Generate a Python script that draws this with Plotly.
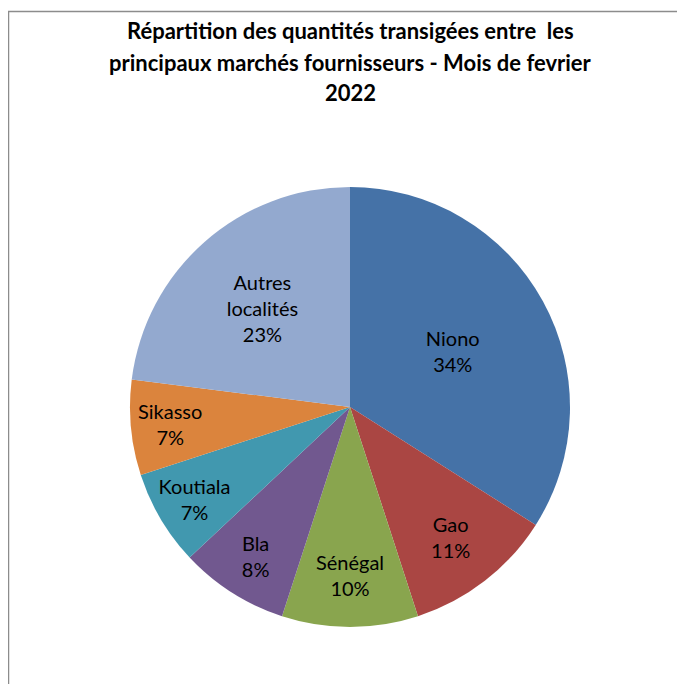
import plotly.graph_objects as go

labels = ["Niono", "Gao", "Sénégal", "Bla", "Koutiala", "Sikasso", "Autres localités"]
label_text = ["Niono", "Gao", "Sénégal", "Bla", "Koutiala", "Sikasso", "Autres<br>localités"]
values = [34, 11, 10, 8, 7, 7, 23]
colors = ["#4572A7", "#AA4643", "#89A54E", "#71588F", "#4198AF", "#DB843D", "#93A9CF"]
title_lines = [
    "Répartition des quantités transigées entre  les",
    "principaux marchés fournisseurs - Mois de fevrier",
    "2022",
]

W, H = 685, 684
OFF = 8  # page body margin

fig = go.Figure(go.Pie(
    labels=labels,
    values=values,
    text=label_text,
    texttemplate="%{text}<br>%{percent:.0%}",
    textposition="inside",
    insidetextorientation="horizontal",
    sort=False,
    direction="clockwise",
    rotation=0,
    marker=dict(colors=colors, line=dict(width=0)),
    textfont=dict(family="Lato", size=20, color="#000000"),
    showlegend=False,
    hoverinfo="label+percent",
    domain=dict(x=[122 / W, 562 / W], y=[1 - 619 / H, 1 - 179 / H]),
))

annotations = [
    dict(text=f"<b>{t}</b>", x=(350 - OFF) / W, y=1 - (yy - OFF) / H, xref="paper", yref="paper",
         xanchor="center", yanchor="middle", showarrow=False,
         font=dict(family="Lato", size=22, color="#000000"))
    for t, yy in zip(title_lines, [31, 62, 93])
]

fig.update_layout(
    width=W, height=H,
    margin=dict(l=0, r=0, t=0, b=0),
    paper_bgcolor="white",
    annotations=annotations,
    uniformtext=dict(minsize=20, mode="show"),
    shapes=[
        dict(type="line", xref="paper", yref="paper", x0=0, x1=1.05, y0=1 - 3.5 / H, y1=1 - 3.5 / H,
             line=dict(color="#8c8c8c", width=1.5)),
        dict(type="line", xref="paper", yref="paper", x0=0.5 / W, x1=0.5 / W, y0=1 - 3.5 / H, y1=-0.05,
             line=dict(color="#8c8c8c", width=1.5)),
    ],
)

fig.write_html("out.html")
